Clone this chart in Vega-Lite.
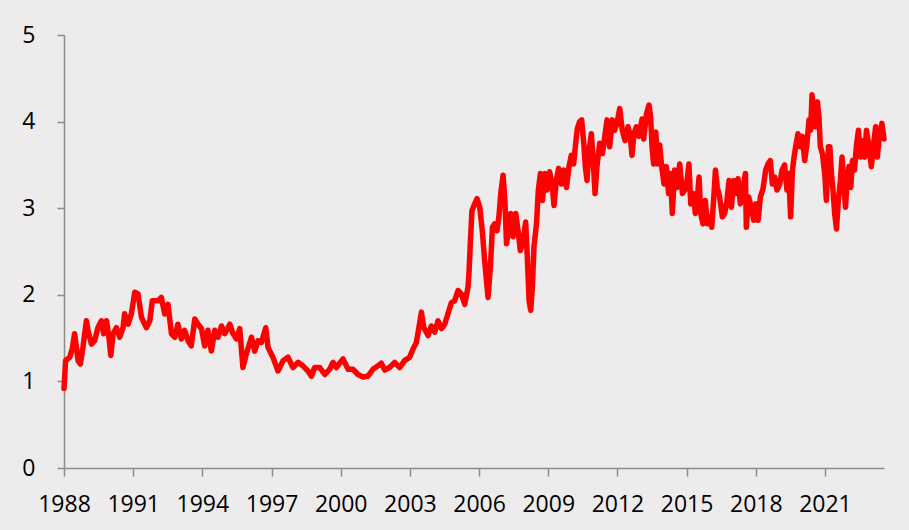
{
  "$schema": "https://vega.github.io/schema/vega-lite/v6.json",
  "width": 820,
  "height": 433,
  "autosize": {"type": "none"},
  "padding": {"left": 64, "top": 35, "right": 25, "bottom": 62},
  "background": "#EDEBEB",
  "config": {
    "view": {"stroke": null},
    "axis": {
      "grid": false,
      "title": null,
      "domainColor": "#8C8C8C",
      "domainWidth": 1.5,
      "tickColor": "#8C8C8C",
      "tickWidth": 1.5,
      "labelFont": "Open Sans",
      "labelFontSize": 23,
      "labelColor": "#000000"
    }
  },
  "data": {
    "values": [
      {"year": 1988.00, "value": 0.92},
      {"year": 1988.07, "value": 1.24},
      {"year": 1988.25, "value": 1.28},
      {"year": 1988.36, "value": 1.38},
      {"year": 1988.46, "value": 1.55},
      {"year": 1988.54, "value": 1.39},
      {"year": 1988.61, "value": 1.24},
      {"year": 1988.71, "value": 1.20},
      {"year": 1988.82, "value": 1.39},
      {"year": 1988.97, "value": 1.70},
      {"year": 1989.04, "value": 1.59},
      {"year": 1989.19, "value": 1.43},
      {"year": 1989.33, "value": 1.47},
      {"year": 1989.47, "value": 1.62},
      {"year": 1989.62, "value": 1.70},
      {"year": 1989.72, "value": 1.55},
      {"year": 1989.84, "value": 1.70},
      {"year": 1989.95, "value": 1.51},
      {"year": 1990.03, "value": 1.30},
      {"year": 1990.13, "value": 1.55},
      {"year": 1990.27, "value": 1.62},
      {"year": 1990.42, "value": 1.51},
      {"year": 1990.56, "value": 1.62},
      {"year": 1990.63, "value": 1.78},
      {"year": 1990.78, "value": 1.66},
      {"year": 1990.92, "value": 1.78},
      {"year": 1991.07, "value": 2.03},
      {"year": 1991.21, "value": 2.01},
      {"year": 1991.36, "value": 1.74},
      {"year": 1991.57, "value": 1.62},
      {"year": 1991.72, "value": 1.70},
      {"year": 1991.83, "value": 1.93},
      {"year": 1992.08, "value": 1.93},
      {"year": 1992.22, "value": 1.97},
      {"year": 1992.37, "value": 1.78},
      {"year": 1992.51, "value": 1.89},
      {"year": 1992.66, "value": 1.55},
      {"year": 1992.80, "value": 1.51},
      {"year": 1992.94, "value": 1.66},
      {"year": 1993.09, "value": 1.49},
      {"year": 1993.23, "value": 1.59},
      {"year": 1993.38, "value": 1.47},
      {"year": 1993.52, "value": 1.41},
      {"year": 1993.67, "value": 1.72},
      {"year": 1993.81, "value": 1.66},
      {"year": 1993.96, "value": 1.61},
      {"year": 1994.10, "value": 1.41},
      {"year": 1994.24, "value": 1.59},
      {"year": 1994.39, "value": 1.35},
      {"year": 1994.54, "value": 1.59},
      {"year": 1994.68, "value": 1.51},
      {"year": 1994.83, "value": 1.64},
      {"year": 1994.97, "value": 1.55},
      {"year": 1995.19, "value": 1.66},
      {"year": 1995.33, "value": 1.55},
      {"year": 1995.48, "value": 1.49},
      {"year": 1995.62, "value": 1.61},
      {"year": 1995.76, "value": 1.16},
      {"year": 1995.91, "value": 1.32},
      {"year": 1996.13, "value": 1.51},
      {"year": 1996.27, "value": 1.35},
      {"year": 1996.41, "value": 1.47},
      {"year": 1996.56, "value": 1.45},
      {"year": 1996.75, "value": 1.62},
      {"year": 1996.85, "value": 1.39},
      {"year": 1997.06, "value": 1.28},
      {"year": 1997.28, "value": 1.12},
      {"year": 1997.50, "value": 1.24},
      {"year": 1997.71, "value": 1.28},
      {"year": 1997.93, "value": 1.16},
      {"year": 1998.15, "value": 1.22},
      {"year": 1998.36, "value": 1.18},
      {"year": 1998.58, "value": 1.12},
      {"year": 1998.73, "value": 1.06},
      {"year": 1998.87, "value": 1.16},
      {"year": 1999.09, "value": 1.16},
      {"year": 1999.31, "value": 1.08},
      {"year": 1999.52, "value": 1.14},
      {"year": 1999.67, "value": 1.22},
      {"year": 1999.81, "value": 1.16},
      {"year": 2000.10, "value": 1.26},
      {"year": 2000.32, "value": 1.14},
      {"year": 2000.53, "value": 1.14},
      {"year": 2000.75, "value": 1.08},
      {"year": 2000.97, "value": 1.05},
      {"year": 2001.18, "value": 1.06},
      {"year": 2001.40, "value": 1.14},
      {"year": 2001.62, "value": 1.18},
      {"year": 2001.76, "value": 1.21},
      {"year": 2001.91, "value": 1.13},
      {"year": 2002.12, "value": 1.16},
      {"year": 2002.34, "value": 1.22},
      {"year": 2002.56, "value": 1.16},
      {"year": 2002.77, "value": 1.24},
      {"year": 2002.99, "value": 1.28},
      {"year": 2003.13, "value": 1.37},
      {"year": 2003.28, "value": 1.45},
      {"year": 2003.39, "value": 1.62},
      {"year": 2003.50, "value": 1.80},
      {"year": 2003.60, "value": 1.62},
      {"year": 2003.79, "value": 1.53},
      {"year": 2003.93, "value": 1.64},
      {"year": 2004.08, "value": 1.57},
      {"year": 2004.22, "value": 1.70},
      {"year": 2004.37, "value": 1.61},
      {"year": 2004.51, "value": 1.66},
      {"year": 2004.65, "value": 1.78},
      {"year": 2004.80, "value": 1.91},
      {"year": 2004.94, "value": 1.93},
      {"year": 2005.09, "value": 2.05},
      {"year": 2005.23, "value": 2.01},
      {"year": 2005.38, "value": 1.89},
      {"year": 2005.52, "value": 2.09},
      {"year": 2005.56, "value": 2.24},
      {"year": 2005.62, "value": 2.59},
      {"year": 2005.69, "value": 2.97},
      {"year": 2005.81, "value": 3.05},
      {"year": 2005.91, "value": 3.11},
      {"year": 2006.03, "value": 3.01},
      {"year": 2006.14, "value": 2.74},
      {"year": 2006.24, "value": 2.40},
      {"year": 2006.39, "value": 1.97},
      {"year": 2006.49, "value": 2.32},
      {"year": 2006.58, "value": 2.78},
      {"year": 2006.68, "value": 2.82},
      {"year": 2006.78, "value": 2.74},
      {"year": 2006.86, "value": 2.90},
      {"year": 2006.94, "value": 3.17},
      {"year": 2007.04, "value": 3.38},
      {"year": 2007.12, "value": 3.09},
      {"year": 2007.19, "value": 2.59},
      {"year": 2007.29, "value": 2.78},
      {"year": 2007.37, "value": 2.94},
      {"year": 2007.47, "value": 2.67},
      {"year": 2007.59, "value": 2.94},
      {"year": 2007.69, "value": 2.74},
      {"year": 2007.79, "value": 2.51},
      {"year": 2007.91, "value": 2.63},
      {"year": 2008.02, "value": 2.84},
      {"year": 2008.08, "value": 2.51},
      {"year": 2008.17, "value": 1.93},
      {"year": 2008.24, "value": 1.82},
      {"year": 2008.31, "value": 2.09},
      {"year": 2008.38, "value": 2.55},
      {"year": 2008.49, "value": 2.82},
      {"year": 2008.57, "value": 3.21},
      {"year": 2008.66, "value": 3.40},
      {"year": 2008.75, "value": 3.09},
      {"year": 2008.85, "value": 3.40},
      {"year": 2008.95, "value": 3.21},
      {"year": 2009.06, "value": 3.42},
      {"year": 2009.18, "value": 3.24},
      {"year": 2009.25, "value": 3.03},
      {"year": 2009.35, "value": 3.32},
      {"year": 2009.45, "value": 3.46},
      {"year": 2009.57, "value": 3.28},
      {"year": 2009.67, "value": 3.44},
      {"year": 2009.79, "value": 3.24},
      {"year": 2009.90, "value": 3.48},
      {"year": 2010.00, "value": 3.61},
      {"year": 2010.10, "value": 3.51},
      {"year": 2010.19, "value": 3.75},
      {"year": 2010.26, "value": 3.92},
      {"year": 2010.36, "value": 4.00},
      {"year": 2010.45, "value": 4.02},
      {"year": 2010.54, "value": 3.75},
      {"year": 2010.61, "value": 3.48},
      {"year": 2010.68, "value": 3.32},
      {"year": 2010.77, "value": 3.67},
      {"year": 2010.87, "value": 3.86},
      {"year": 2010.94, "value": 3.59},
      {"year": 2011.03, "value": 3.17},
      {"year": 2011.11, "value": 3.48},
      {"year": 2011.23, "value": 3.75},
      {"year": 2011.35, "value": 3.63},
      {"year": 2011.45, "value": 3.83},
      {"year": 2011.55, "value": 4.02},
      {"year": 2011.66, "value": 3.71},
      {"year": 2011.78, "value": 4.02},
      {"year": 2011.88, "value": 3.90},
      {"year": 2011.98, "value": 3.98},
      {"year": 2012.10, "value": 4.15},
      {"year": 2012.21, "value": 3.90},
      {"year": 2012.33, "value": 3.78},
      {"year": 2012.46, "value": 3.94},
      {"year": 2012.56, "value": 3.83},
      {"year": 2012.63, "value": 3.61},
      {"year": 2012.72, "value": 3.86},
      {"year": 2012.82, "value": 3.94},
      {"year": 2012.93, "value": 3.83},
      {"year": 2013.07, "value": 4.03},
      {"year": 2013.14, "value": 3.80},
      {"year": 2013.26, "value": 4.09},
      {"year": 2013.37, "value": 4.19},
      {"year": 2013.44, "value": 4.05},
      {"year": 2013.50, "value": 3.71},
      {"year": 2013.57, "value": 3.51},
      {"year": 2013.66, "value": 3.88},
      {"year": 2013.75, "value": 3.51},
      {"year": 2013.83, "value": 3.73},
      {"year": 2013.92, "value": 3.48},
      {"year": 2014.02, "value": 3.28},
      {"year": 2014.12, "value": 3.48},
      {"year": 2014.22, "value": 3.17},
      {"year": 2014.30, "value": 3.40},
      {"year": 2014.38, "value": 2.94},
      {"year": 2014.48, "value": 3.44},
      {"year": 2014.58, "value": 3.24},
      {"year": 2014.70, "value": 3.51},
      {"year": 2014.82, "value": 3.17},
      {"year": 2014.92, "value": 3.21},
      {"year": 2015.02, "value": 3.32},
      {"year": 2015.10, "value": 3.51},
      {"year": 2015.18, "value": 3.05},
      {"year": 2015.28, "value": 3.17},
      {"year": 2015.38, "value": 2.94},
      {"year": 2015.47, "value": 3.13},
      {"year": 2015.54, "value": 3.36},
      {"year": 2015.61, "value": 2.94},
      {"year": 2015.71, "value": 2.82},
      {"year": 2015.81, "value": 3.09},
      {"year": 2015.90, "value": 2.82},
      {"year": 2016.00, "value": 2.90},
      {"year": 2016.09, "value": 2.78},
      {"year": 2016.17, "value": 3.09},
      {"year": 2016.25, "value": 3.44},
      {"year": 2016.33, "value": 3.24},
      {"year": 2016.43, "value": 3.13},
      {"year": 2016.55, "value": 2.90},
      {"year": 2016.65, "value": 2.94},
      {"year": 2016.75, "value": 3.09},
      {"year": 2016.84, "value": 3.32},
      {"year": 2016.94, "value": 3.01},
      {"year": 2017.04, "value": 3.32},
      {"year": 2017.13, "value": 3.17},
      {"year": 2017.23, "value": 3.34},
      {"year": 2017.33, "value": 3.05},
      {"year": 2017.45, "value": 3.24},
      {"year": 2017.55, "value": 3.40},
      {"year": 2017.59, "value": 2.78},
      {"year": 2017.69, "value": 3.13},
      {"year": 2017.81, "value": 3.01},
      {"year": 2017.91, "value": 2.86},
      {"year": 2018.00, "value": 3.05},
      {"year": 2018.10, "value": 2.86},
      {"year": 2018.20, "value": 3.13},
      {"year": 2018.31, "value": 3.22},
      {"year": 2018.43, "value": 3.44},
      {"year": 2018.53, "value": 3.51},
      {"year": 2018.63, "value": 3.55},
      {"year": 2018.72, "value": 3.28},
      {"year": 2018.82, "value": 3.36},
      {"year": 2018.92, "value": 3.21},
      {"year": 2019.04, "value": 3.28},
      {"year": 2019.14, "value": 3.44},
      {"year": 2019.25, "value": 3.50},
      {"year": 2019.35, "value": 3.21},
      {"year": 2019.43, "value": 3.40},
      {"year": 2019.51, "value": 2.90},
      {"year": 2019.59, "value": 3.44},
      {"year": 2019.66, "value": 3.59},
      {"year": 2019.73, "value": 3.71},
      {"year": 2019.83, "value": 3.86},
      {"year": 2019.93, "value": 3.71},
      {"year": 2020.02, "value": 3.83},
      {"year": 2020.12, "value": 3.55},
      {"year": 2020.22, "value": 3.75},
      {"year": 2020.31, "value": 4.02},
      {"year": 2020.38, "value": 3.90},
      {"year": 2020.44, "value": 4.31},
      {"year": 2020.51, "value": 4.09},
      {"year": 2020.59, "value": 3.94},
      {"year": 2020.67, "value": 4.23},
      {"year": 2020.74, "value": 4.05},
      {"year": 2020.80, "value": 3.71},
      {"year": 2020.89, "value": 3.63},
      {"year": 2020.99, "value": 3.40},
      {"year": 2021.06, "value": 3.09},
      {"year": 2021.15, "value": 3.71},
      {"year": 2021.21, "value": 3.71},
      {"year": 2021.28, "value": 3.40},
      {"year": 2021.35, "value": 3.21},
      {"year": 2021.42, "value": 2.94},
      {"year": 2021.50, "value": 2.76},
      {"year": 2021.58, "value": 3.09},
      {"year": 2021.67, "value": 3.32},
      {"year": 2021.74, "value": 3.59},
      {"year": 2021.81, "value": 3.32},
      {"year": 2021.89, "value": 3.01},
      {"year": 2021.96, "value": 3.32},
      {"year": 2022.04, "value": 3.48},
      {"year": 2022.12, "value": 3.24},
      {"year": 2022.19, "value": 3.55},
      {"year": 2022.28, "value": 3.44},
      {"year": 2022.36, "value": 3.71},
      {"year": 2022.45, "value": 3.90},
      {"year": 2022.54, "value": 3.59},
      {"year": 2022.62, "value": 3.78},
      {"year": 2022.72, "value": 3.59},
      {"year": 2022.80, "value": 3.90},
      {"year": 2022.91, "value": 3.71},
      {"year": 2023.01, "value": 3.48},
      {"year": 2023.11, "value": 3.75},
      {"year": 2023.20, "value": 3.94},
      {"year": 2023.27, "value": 3.59},
      {"year": 2023.37, "value": 3.86},
      {"year": 2023.47, "value": 3.98},
      {"year": 2023.56, "value": 3.80}
    ]
  },
  "mark": {"type": "line", "color": "#FF0000", "strokeWidth": 5.5, "strokeJoin": "round", "strokeCap": "round"},
  "encoding": {
    "x": {
      "field": "year",
      "type": "quantitative",
      "scale": {"domain": [1988, 2023.56], "nice": false, "zero": false},
      "axis": {
        "values": [1988, 1991, 1994, 1997, 2000, 2003, 2006, 2009, 2012, 2015, 2018, 2021],
        "format": "d",
        "tickSize": 8,
        "labelPadding": 17,
        "labelFlush": false,
        "labelOverlap": false
      }
    },
    "y": {
      "field": "value",
      "type": "quantitative",
      "scale": {"domain": [0, 5], "nice": false},
      "axis": {
        "values": [0, 1, 2, 3, 4, 5],
        "format": "d",
        "tickSize": 7,
        "labelPadding": 22
      }
    }
  }
}
